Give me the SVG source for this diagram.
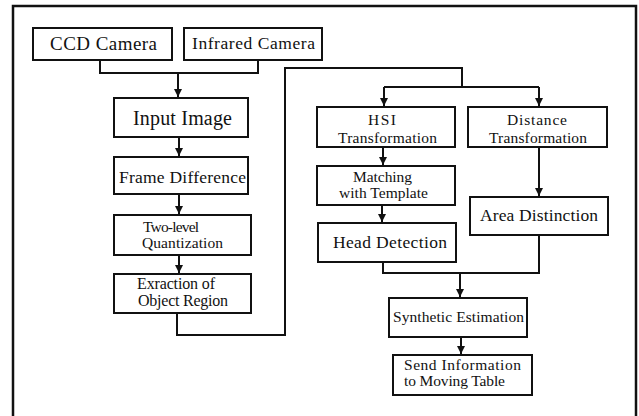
<svg xmlns="http://www.w3.org/2000/svg" width="639" height="416" viewBox="0 0 639 416">
  <style>
    .box { fill: #fff; stroke: #111; stroke-width: 2; }
    .frame { fill: none; stroke: #111; stroke-width: 2.5; }
    .wire { fill: none; stroke: #111; stroke-width: 2; }
    text { font-family: "Liberation Serif", "Times New Roman", serif; fill: #111; }
    .lg { font-size: 19px; }
    .md { font-size: 17.5px; }
    .sm { font-size: 15.5px; }
  </style>
  <defs>
    <marker id="arrow" markerUnits="userSpaceOnUse" markerWidth="10" markerHeight="8" refX="8" refY="4" orient="auto">
      <path d="M0,0 L8,4 L0,8 Z" fill="#111"/>
    </marker>
  </defs>

  <rect width="639" height="416" fill="#fff"/>
  <!-- outer border, open at the bottom edge -->
  <rect class="frame" x="13" y="6" width="623" height="416"/>

  <g id="connectors">
    <path class="wire" d="M100,60 V73 H258 V60"/>
    <path class="wire" d="M178,73 V97" marker-end="url(#arrow)"/>
    <path class="wire" d="M179,137 V156" marker-end="url(#arrow)"/>
    <path class="wire" d="M179,194 V214" marker-end="url(#arrow)"/>
    <path class="wire" d="M179,255 V273" marker-end="url(#arrow)"/>
    <path class="wire" d="M177,313 V335 H285 V68 H462 V87"/>
    <path class="wire" d="M384,87 H539"/>
    <path class="wire" d="M384,87 V106" marker-end="url(#arrow)"/>
    <path class="wire" d="M539,87 V106" marker-end="url(#arrow)"/>
    <path class="wire" d="M383,147 V165" marker-end="url(#arrow)"/>
    <path class="wire" d="M539,147 V196" marker-end="url(#arrow)"/>
    <path class="wire" d="M382,205 V222" marker-end="url(#arrow)"/>
    <path class="wire" d="M383,262 V273 H539 V235"/>
    <path class="wire" d="M460,273 V297" marker-end="url(#arrow)"/>
    <path class="wire" d="M461,337 V354" marker-end="url(#arrow)"/>
  </g>

  <g id="ccd-camera">
    <rect class="box" x="33" y="28" width="139" height="32"/>
    <text class="lg" x="50" y="50" textLength="107">CCD Camera</text>
  </g>
  <g id="infrared-camera">
    <rect class="box" x="184" y="28" width="138" height="32"/>
    <text class="md" x="192" y="49" textLength="123">Infrared Camera</text>
  </g>
  <g id="input-image">
    <rect class="box" x="114" y="98" width="134" height="39"/>
    <text x="133" y="125" font-size="20" textLength="99">Input Image</text>
  </g>
  <g id="frame-difference">
    <rect class="box" x="114" y="157" width="134" height="37"/>
    <text class="md" x="119" y="183" textLength="127">Frame Difference</text>
  </g>
  <g id="two-level-quantization">
    <rect class="box" x="114" y="215" width="137" height="40"/>
    <text class="sm" x="143" y="232" textLength="56">Two-level</text>
    <text class="sm" x="142" y="248" textLength="81">Quantization</text>
  </g>
  <g id="object-region">
    <rect class="box" x="114" y="274" width="137" height="39"/>
    <text x="137" y="289" font-size="16" textLength="78">Exraction of</text>
    <text x="138" y="306" font-size="16" textLength="90">Object Region</text>
  </g>
  <g id="hsi-transformation">
    <rect class="box" x="317" y="107" width="138" height="40"/>
    <text class="sm" x="368" y="125" textLength="28">HSI</text>
    <text class="sm" x="338" y="143" textLength="99">Transformation</text>
  </g>
  <g id="distance-transformation">
    <rect class="box" x="468" y="107" width="139" height="40"/>
    <text class="sm" x="507" y="125" textLength="60">Distance</text>
    <text class="sm" x="489" y="143" textLength="98">Transformation</text>
  </g>
  <g id="template-matching">
    <rect class="box" x="317" y="166" width="138" height="39"/>
    <text class="sm" x="353" y="182" textLength="59">Matching</text>
    <text class="sm" x="339" y="198" textLength="89">with Template</text>
  </g>
  <g id="area-distinction">
    <rect class="box" x="470" y="197" width="138" height="38"/>
    <text class="md" x="480" y="221" textLength="118">Area Distinction</text>
  </g>
  <g id="head-detection">
    <rect class="box" x="318" y="223" width="138" height="39"/>
    <text class="md" x="333" y="248" textLength="114">Head Detection</text>
  </g>
  <g id="synthetic-estimation">
    <rect class="box" x="389" y="298" width="138" height="39"/>
    <text class="sm" x="393" y="322" textLength="131">Synthetic Estimation</text>
  </g>
  <g id="send-information">
    <rect class="box" x="393" y="355" width="139" height="40"/>
    <text class="sm" x="404" y="370" textLength="117">Send Information</text>
    <text class="sm" x="404" y="386" textLength="101">to Moving Table</text>
  </g>
</svg>
